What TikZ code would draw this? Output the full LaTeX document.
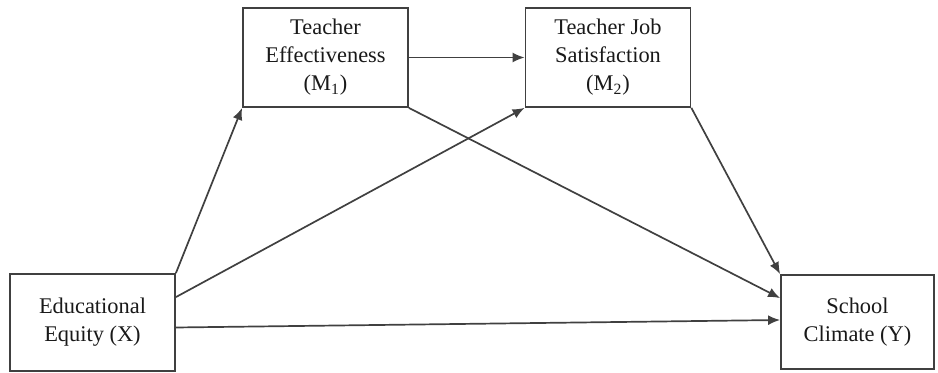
\documentclass[tikz,border=0pt]{standalone}
\usepackage{fontspec}
\setmainfont{Liberation Serif}
\usetikzlibrary{arrows.meta}

\begin{document}
\begin{tikzpicture}[x=0.5pt, y=-0.5pt,
  box/.style={draw=black!75, line width=0.9pt, minimum width=82.5pt, minimum height=49pt, align=center, font=\fontsize{11.2}{14}\selectfont, text=black!90},
  arrow/.style={-{Latex[length=6pt, width=5pt]}, line width=0.85pt, draw=black!75}
]
  \useasboundingbox (0,0) rectangle (938,373);
  \node[box, minimum height=48.5pt] (eq) at (92.5,322.5) {Educational\\Equity (X)};
  \node[box, minimum height=49.5pt] (te) at (325.5,57.5) {Teacher\\Effectiveness\\(M\textsubscript{1})};
  \node[box, minimum height=49.5pt] (js) at (608,57.5) {Teacher Job\\Satisfaction\\(M\textsubscript{2})};
  \node[box, minimum width=76.5pt, minimum height=47pt] (sc) at (857.5,322) {School\\Climate (Y)};

  \draw[arrow] (eq.north east) -- (te.south west);
  \draw[arrow] ([yshift=-12pt]eq.north east) -- (js.south west);
  \draw[arrow] ([yshift=-2.5pt]eq.east) -- ([yshift=1pt]sc.west);
  \draw[arrow] (te.east) -- (js.west);
  \draw[arrow] (te.south east) -- ([yshift=-12pt]sc.north west);
  \draw[arrow] (js.south east) -- (sc.north west);
\end{tikzpicture}
\end{document}
